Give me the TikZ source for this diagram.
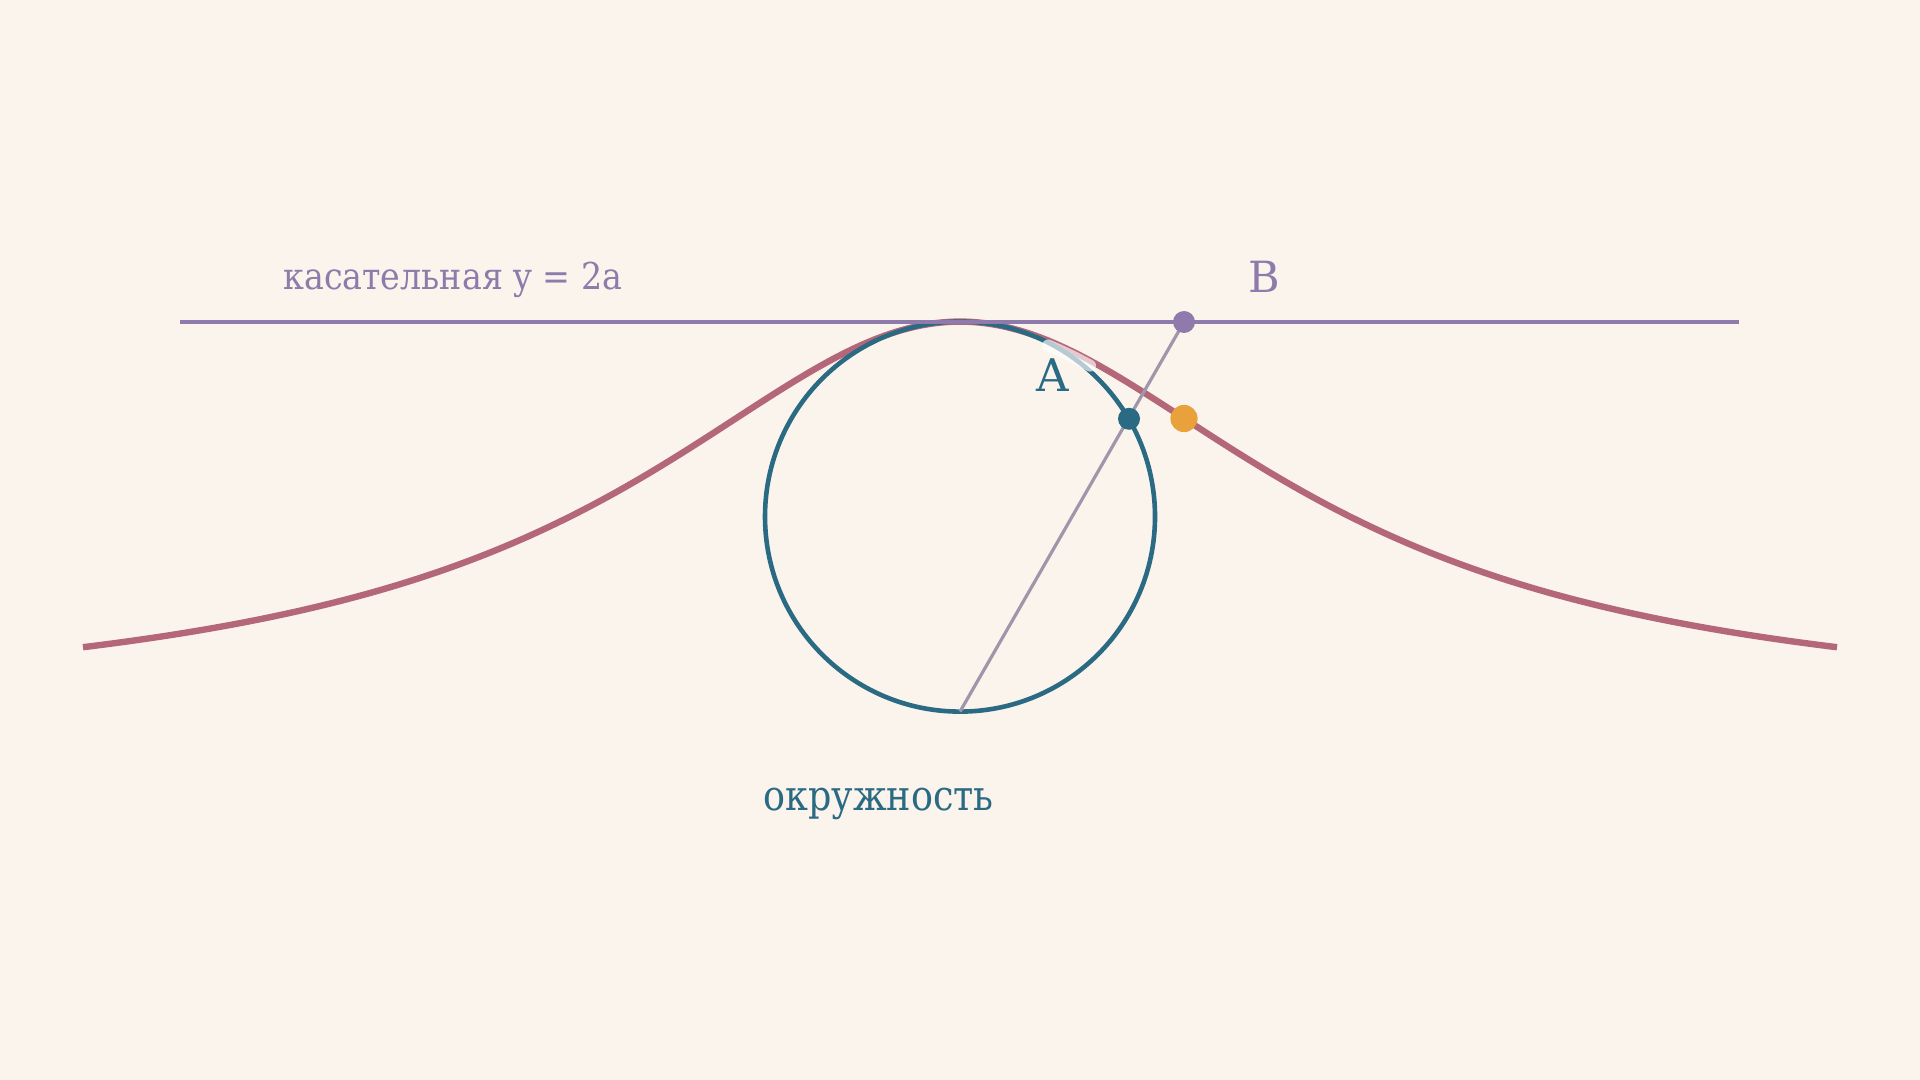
\documentclass[tikz,border=0pt]{standalone}
\usepackage{fontspec}
\setmainfont{DejaVu Serif}
\newfontfamily\tanfont[FakeStretch=0.9]{DejaVu Serif}
\newfontfamily\circfont[FakeStretch=0.87]{DejaVu Serif}
\definecolor{bgc}{HTML}{FAF4ED}
\definecolor{rose}{HTML}{B5677A}
\definecolor{teal}{HTML}{2B6A83}
\definecolor{purp}{HTML}{8F7BAB}
\definecolor{greyl}{HTML}{A096A9}
\definecolor{orng}{HTML}{E9A23B}
\begin{document}
\begin{tikzpicture}[x=0.5pt,y=-0.5pt,
  curvestyle/.style={draw=rose,line width=3.2pt},
  circstyle/.style={draw=teal,line width=2.3pt},
  tanstyle/.style={draw=purp,line width=1.8pt},
  raystyle/.style={draw=greyl,line width=1.6pt},
  lbl/.style={inner sep=0pt,anchor=base west}]
\fill[bgc] (0,0) rectangle (1920,1080);
\useasboundingbox (0,0) rectangle (1920,1080);
\coordinate (O) at (960,711.6);
\coordinate (C) at (960,516.6);
\coordinate (B) at (1184,322);
\coordinate (Apt) at (1129,418.8);
\coordinate (P) at (1184,418.5);
\coordinate (T1) at (180,322);
\coordinate (T2) at (1739,322);
% curve
\draw[curvestyle] plot[domain=-877:877,samples=220,smooth] ({\x+960},{711.6-390/(1+(\x/390)^2)});
% circle
\draw[circstyle] (C) circle[radius=97.5pt];
% halo
\draw[white,opacity=0.65,line width=6pt,line cap=round] plot[domain=88:130,samples=20,smooth] ({\x+960},{711.6-390/(1+(\x/390)^2)+5});
% tangent
\draw[tanstyle] (T1) -- (T2);
% ray
\draw[raystyle] (O) -- (B);
% dots
\fill[purp] (B) circle[radius=5.5pt];
\fill[teal] (Apt) circle[radius=5.5pt];
\fill[orng] (P) circle[radius=6.8pt];
% labels
\node[lbl,text=purp,font=\tanfont\fontsize{18.5}{22}\selectfont] (tl) at (283,290) {касательная y = 2a};
\node[lbl,text=purp,font=\fontsize{21.5}{26}\selectfont] (bl) at (1248,293) {B};
\node[lbl,text=teal,font=\fontsize{22.5}{26}\selectfont] (al) at (1036,392) {A};
\node[lbl,text=teal,font=\circfont\fontsize{21}{24}\selectfont] (ol) at (763,810) {окружность};
\end{tikzpicture}
\end{document}
